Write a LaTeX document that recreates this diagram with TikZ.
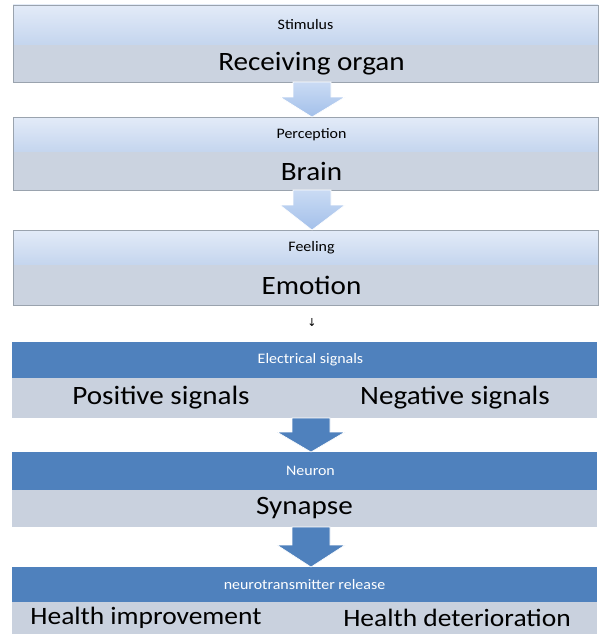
\documentclass[tikz,border=0pt]{standalone}
\usepackage{fontspec}
\setmainfont[FakeStretch=1.1]{Carlito}
\newfontfamily\symfont{DejaVu Sans}
\usetikzlibrary{calc}
\definecolor{ltop}{HTML}{E3EBF8}
\definecolor{lmid}{HTML}{C4D5EE}
\definecolor{lgrey}{HTML}{CBD3E0}
\definecolor{dblue}{HTML}{4F81BD}
\definecolor{lband}{HTML}{C9D1DE}
\definecolor{larrowA}{HTML}{CADBF4}
\definecolor{larrowB}{HTML}{A3C0EA}
\definecolor{edge}{HTML}{9AA3AE}
\tikzset{
  band/.style={anchor=north west, inner sep=0pt, outer sep=0pt, minimum width=585pt, text=black},
  lighthead/.style={band, top color=ltop, bottom color=lmid, font=\fontsize{14.5}{16}\selectfont},
  lightfoot/.style={band, fill=lgrey, font=\fontsize{26.5}{29}\selectfont},
  darkhead/.style={band, fill=dblue, text=white, font=\fontsize{14.5}{16}\selectfont},
  darkfoot/.style={band, fill=lband, font=\fontsize{26.5}{29}\selectfont},
  lbl/.style={inner sep=0pt, font=\fontsize{26.5}{29}\selectfont},
  lastlbl/.style={inner sep=0pt, font=\fontsize{25}{27}\selectfont},
  lightarrow/.style={top color=larrowA, bottom color=larrowB, draw=white, line width=0.6pt},
  darkarrow/.style={fill=dblue, draw=white, line width=0.6pt},
  outline/.style={draw=edge, line width=0.6pt}
}
\begin{document}
\begin{tikzpicture}[x=1pt,y=-1pt]
\useasboundingbox[fill=white] (0,0) rectangle (598,634);
% box 1
\node[lighthead, minimum height=40pt] (h1) at (13,5) {Stimulus};
\node[lightfoot, minimum height=37pt] (f1) at (13,45) {\hspace{12pt}Receiving organ};
\draw[outline] (h1.north west) rectangle (f1.south east);
% box 2
\node[lighthead, minimum height=35pt] (h2) at (13,117) {\hspace{12pt}Perception};
\node[lightfoot, minimum height=38pt] (f2) at (13,152) {\hspace{12pt}Brain};
\draw[outline] (h2.north west) rectangle (f2.south east);
% box 3
\node[lighthead, minimum height=35pt] (h3) at (13,230) {\hspace{12pt}Feeling};
\node[lightfoot, minimum height=40pt] (f3) at (13,265) {\hspace{12pt}Emotion};
\draw[outline] (h3.north west) rectangle (f3.south east);
% small arrow
\node[inner sep=0pt, font=\symfont\fontsize{11}{12}\selectfont] (sa) at (312,323) {↓};
% box 4
\node[darkhead, minimum height=36pt] (h4) at (12,342) {\hspace{12pt}Electrical signals};
\node[darkfoot, minimum height=40pt] (f4) at (12,378) {};
\node[lbl] (pos) at (161,398) {Positive signals};
\node[lbl] (neg) at (455,398) {Negative signals};
% box 5
\node[darkhead, minimum height=38pt] (h5) at (12,452) {\hspace{12pt}Neuron};
\node[darkfoot, minimum height=37pt] (f5) at (12,490) {Synapse};
% box 6
\node[darkhead, minimum height=35pt] (h6) at (12,567) {neurotransmitter release};
\node[darkfoot, minimum height=32pt] (f6) at (12,602) {};
\node[lastlbl] (hi) at (146,618) {Health\hspace{6pt}improvement};
\node[lastlbl] (hd) at (457,618) {Health deterioration};
% block arrows
\path (f1.south) ++(6.5,0) coordinate (a1);
\path (h2.north) ++(6.5,0) coordinate (t1);
\draw[lightarrow] (a1) ++(-19,0) -- ++(0,15) -- ++(-13,0) -- (t1) -- ($(a1)+(33,15)$) -- ++(-14,0) -- ++(0,-15) -- cycle;
\path (f2.south) ++(6.5,0) coordinate (a2);
\path (h3.north) ++(6.5,0) coordinate (t2);
\draw[lightarrow] (a2) ++(-19,0) -- ++(0,15) -- ++(-13,0) -- (t2) -- ($(a2)+(33,15)$) -- ++(-14,0) -- ++(0,-15) -- cycle;
\path (f4.south) ++(6.5,0) coordinate (a3);
\path (h5.north) ++(6.5,0) coordinate (t3);
\draw[darkarrow] (a3) ++(-19,0) -- ++(0,14) -- ++(-15,0) -- (t3) -- ($(a3)+(34,14)$) -- ++(-15,0) -- ++(0,-14) -- cycle;
\path (f5.south) ++(6.5,0) coordinate (a4);
\path (h6.north) ++(6.5,0) coordinate (t4);
\draw[darkarrow] (a4) ++(-19,0) -- ++(0,18) -- ++(-15,0) -- (t4) -- ($(a4)+(34,18)$) -- ++(-15,0) -- ++(0,-18) -- cycle;
\end{tikzpicture}
\end{document}
